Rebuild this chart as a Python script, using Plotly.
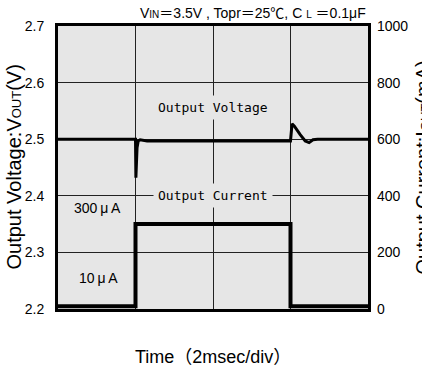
import plotly.graph_objects as go

# Time base in ms (2 ms per division, 4 divisions)
time_v = [0.0, 2.0, 2.01, 2.02, 2.04, 2.07, 2.12, 2.3, 6.0, 6.04, 6.1, 6.25, 6.38, 6.48, 6.58, 6.7, 8.0]
vout = [2.500, 2.500, 2.432, 2.445, 2.485, 2.497, 2.499, 2.497, 2.497, 2.527, 2.523, 2.508, 2.497, 2.494, 2.499, 2.500, 2.500]

time_i = [0.0, 2.0, 2.0, 6.0, 6.0, 8.0]
iout = [10, 10, 300, 300, 10, 10]

left_ticks = [2.2, 2.3, 2.4, 2.5, 2.6, 2.7]
right_ticks = [0, 200, 400, 600, 800, 1000]

BG = "#e6e6e6"
SANS = "Liberation Sans, Arial, Noto Sans CJK JP, sans-serif"
MONO = "DejaVu Sans Mono, monospace"

fig = go.Figure()
fig.add_trace(go.Scatter(x=time_i, y=iout, mode="lines", yaxis="y2",
                         line=dict(color="black", width=4), showlegend=False))
fig.add_trace(go.Scatter(x=time_v, y=vout, mode="lines",
                         line=dict(color="black", width=3), showlegend=False))

fig.update_layout(
    width=422, height=367,
    margin=dict(l=58, r=54, t=26, b=58),
    paper_bgcolor="white", plot_bgcolor=BG,
    font=dict(family=SANS, color="black", size=13),
    xaxis=dict(range=[0, 8], tickvals=[2, 4, 6], showticklabels=False,
               showgrid=True, gridcolor="#222", gridwidth=1, zeroline=False,
               showline=True, linecolor="black", linewidth=3, mirror=True, ticks=""),
    yaxis=dict(range=[2.2, 2.7], tickvals=left_ticks, tickformat=".1f",
               showgrid=True, gridcolor="#222", gridwidth=1, zeroline=False,
               showline=True, linecolor="black", linewidth=3, mirror=True, ticks="",
               tickfont=dict(size=14), ticklabelstandoff=8),
    yaxis2=dict(range=[0, 1000], tickvals=right_ticks, overlaying="y", side="right",
                showgrid=False, zeroline=False, ticks="", tickfont=dict(size=14),
                ticklabelstandoff=8),
)

annotations = [
    dict(text="Output Voltage", x=4, y=2.556, xref="x", yref="y",
         font=dict(family=MONO, size=13), bgcolor=BG, showarrow=False,
         borderpad=4, xanchor="center", yanchor="middle"),
    dict(text="Output Current", x=4, y=2.4, xref="x", yref="y",
         font=dict(family=MONO, size=13), bgcolor=BG, showarrow=False,
         borderpad=4, xanchor="center", yanchor="middle"),
    dict(text="300\u2009μ\u2009A", x=1.02, y=2.378, xref="x", yref="y",
         font=dict(size=14), showarrow=False, xanchor="center", yanchor="middle"),
    dict(text="10\u2009μ\u2009A", x=1.05, y=2.255, xref="x", yref="y",
         font=dict(size=14), showarrow=False, xanchor="center", yanchor="middle"),
    dict(text="V<span style='font-size:10px'>IN</span>＝3.5V , Topr＝25℃, C <span style='font-size:10px'>L</span> ＝0.1μF",
         x=1.0, y=1.0, xref="paper", yref="paper", yshift=13,
         font=dict(size=14), showarrow=False, xanchor="right", yanchor="middle"),
    dict(text="Time（2msec/div）", x=0.5, y=0, xref="paper", yref="paper", yshift=-48,
         font=dict(size=18), showarrow=False, xanchor="center", yanchor="middle"),
    dict(text="Output Voltage:V<span style='font-size:13px'>OUT</span>(V)",
         x=0, y=0.5, xref="paper", yref="paper", xshift=-45, textangle=-90,
         font=dict(size=20), showarrow=False, xanchor="center", yanchor="middle"),
    dict(text="Output Current:I<span style='font-size:13px'>OUT</span>(mA)",
         x=1, y=0.5, xref="paper", yref="paper", xshift=54, textangle=-90,
         font=dict(size=20), showarrow=False, xanchor="center", yanchor="middle"),
]
fig.update_layout(annotations=annotations)

fig.write_html("out.html")
